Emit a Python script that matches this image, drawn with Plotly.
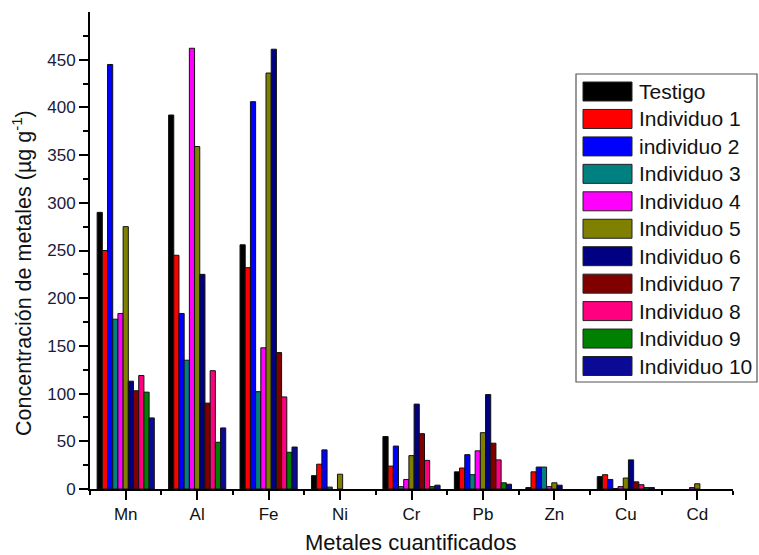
import plotly.graph_objects as go

# Metal categories on the x axis
metals = ["Mn", "Al", "Fe", "Ni", "Cr", "Pb", "Zn", "Cu", "Cd"]

# Series names
series_names = ["Testigo", "Individuo 1", "individuo 2", "Individuo 3", "Individuo 4",
                "Individuo 5", "Individuo 6", "Individuo 7", "Individuo 8",
                "Individuo 9", "Individuo 10"]

# Concentrations (µg g-1) per metal, one list per series
testigo = [290, 392, 256, 14, 55, 18, 1.5, 13, 0]
individuo_1 = [250, 245, 232, 26, 24, 22, 18, 15, 0]
individuo_2 = [445, 184, 406, 41, 45, 36, 23, 10, 0]
individuo_3 = [178, 135, 102, 2, 2.5, 15, 23, 0.5, 0]
individuo_4 = [184, 462, 148, 0, 10, 40, 2.5, 2.5, 1.5]
individuo_5 = [275, 359, 436, 15.5, 35, 59, 6.5, 11.5, 5.5]
individuo_6 = [113, 225, 461, 0, 89, 99, 4, 30.5, 0]
individuo_7 = [103, 90, 143, 0, 58, 48, 0, 7.5, 0]
individuo_8 = [119, 124, 96.5, 0, 30, 30.5, 0, 4.5, 0]
individuo_9 = [101.5, 49, 38.5, 0, 2.5, 6.5, 0, 1.5, 0]
individuo_10 = [74.5, 64, 44, 0, 4, 5, 0, 1.5, 0]

series_values = [testigo, individuo_1, individuo_2, individuo_3, individuo_4,
                 individuo_5, individuo_6, individuo_7, individuo_8,
                 individuo_9, individuo_10]

colors = ["#000000", "#FF0000", "#0000FF", "#008080", "#FF00FF", "#808000",
          "#000080", "#800000", "#FF0080", "#008000", "#0A0A96"]

# y tick labels
y_ticks = [0, 50, 100, 150, 200, 250, 300, 350, 400, 450]

FONT = "Liberation Sans, Arial, sans-serif"
W, H = 759, 555
ML, MR, MT, MB = 90, 26, 12, 66
PW, PH = W - ML - MR, H - MT - MB

x_pos = list(range(len(metals)))

fig = go.Figure()
for name, vals, col in zip(series_names, series_values, colors):
    # zero concentrations are left empty so no outline is drawn on the axis
    shown = [v if v > 0 else None for v in vals]
    fig.add_trace(go.Bar(
        x=x_pos, y=shown, name=name,
        marker=dict(color=col, line=dict(color="#111111", width=1)),
        showlegend=False,
    ))


def px_x(px):
    return (px - ML) / PW


def px_y(py):
    return (H - MB - py) / PH


# Boxed legend with wide swatches
shapes = [dict(type="rect", xref="paper", yref="paper",
               x0=px_x(576), x1=px_x(757), y0=px_y(382), y1=px_y(74),
               line=dict(color="#555555", width=1.2), fillcolor="white")]
annotations = []
row0, step = 91.5, 27.45
for i, (name, col) in enumerate(zip(series_names, colors)):
    cy = row0 + i * step
    shapes.append(dict(type="rect", xref="paper", yref="paper",
                       x0=px_x(583), x1=px_x(632),
                       y0=px_y(cy + 9.5), y1=px_y(cy - 9.5),
                       line=dict(color="#222222", width=1), fillcolor=col))
    annotations.append(dict(xref="paper", yref="paper", x=px_x(637), y=px_y(cy),
                            text=name, showarrow=False, xanchor="left",
                            yanchor="middle",
                            font=dict(family=FONT, size=21, color="#111111")))

# Axis titles
annotations.append(dict(xref="paper", yref="paper", x=px_x(411), y=px_y(542),
                        text="Metales cuantificados", showarrow=False,
                        xanchor="center", yanchor="middle",
                        font=dict(family=FONT, size=22, color="#111111")))
annotations.append(dict(xref="paper", yref="paper", x=px_x(22), y=px_y(273),
                        text="Concentración de metales (µg g<sup>-1</sup>)",
                        showarrow=False, textangle=-90,
                        xanchor="center", yanchor="middle",
                        font=dict(family=FONT, size=21.5, color="#111111")))

fig.update_layout(
    width=W, height=H,
    margin=dict(l=ML, r=MR, t=MT, b=MB),
    paper_bgcolor="white", plot_bgcolor="white",
    barmode="group", bargap=0.2, bargroupgap=0,
    font=dict(family=FONT, color="#111111"),
    shapes=shapes, annotations=annotations,
    xaxis=dict(
        range=[-0.5, len(metals) - 0.5], automargin=False,
        tickmode="array", tickvals=x_pos, ticktext=metals,
        ticks="outside", ticklen=9, tickwidth=2, tickcolor="black",
        minor=dict(tickmode="array",
                   tickvals=[i - 0.5 for i in range(len(metals) + 1)],
                   ticks="outside", ticklen=4, tickwidth=2, tickcolor="black"),
        showline=True, linecolor="black", linewidth=2,
        showgrid=False, zeroline=False,
        tickfont=dict(family=FONT, size=17, color="#111111"),
    ),
    yaxis=dict(
        range=[0, 500], automargin=False,
        tickmode="array", tickvals=y_ticks,
        ticks="outside", ticklen=9, tickwidth=2, tickcolor="black",
        minor=dict(tickmode="array", tickvals=[25 * k for k in range(20)],
                   ticks="outside", ticklen=5, tickwidth=2, tickcolor="black"),
        showline=True, linecolor="black", linewidth=2,
        showgrid=False, zeroline=False,
        tickfont=dict(family=FONT, size=17, color="#1a1a3a"),
    ),
)

fig.write_html("out.html")
